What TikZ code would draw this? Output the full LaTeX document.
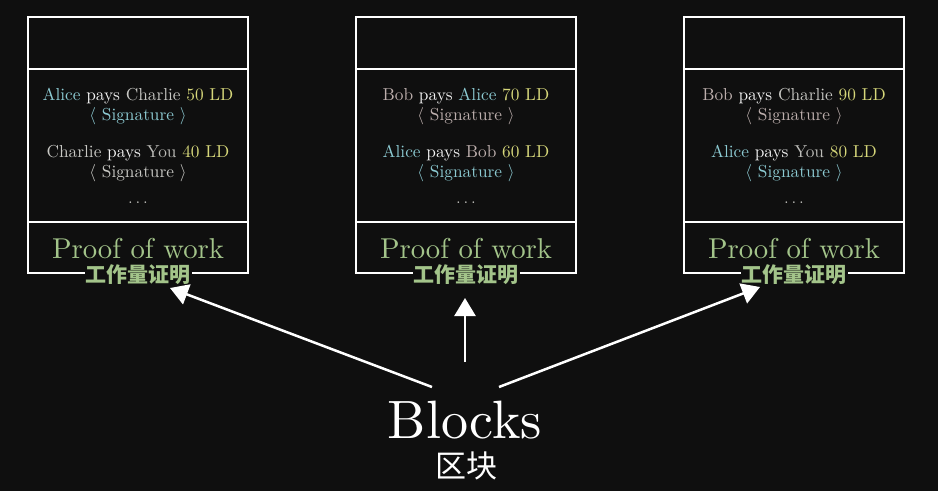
\documentclass[tikz,border=0pt]{standalone}
\usepackage{fontspec}
\setmainfont{lmroman10-regular}[Extension=.otf,BoldFont=lmroman10-bold,ItalicFont=lmroman10-italic]
\newfontfamily\cjk{Noto Sans CJK SC}
\usetikzlibrary{arrows.meta}
\definecolor{bgblack}{HTML}{0F0F0F}
\definecolor{cAlice}{HTML}{8CCAD2}
\definecolor{cBob}{HTML}{BDAFAD}
\definecolor{cCharlie}{HTML}{C8C8C4}
\definecolor{cYou}{HTML}{BCBCB8}
\definecolor{payw}{HTML}{F2F2F2}
\definecolor{amt}{HTML}{D6D77A}
\definecolor{powgreen}{HTML}{A3C48A}

\begin{document}
\begin{tikzpicture}[
	x=1pt,y=-1pt,
	bframe/.style={draw=white,line width=1.9pt},
	txt/.style={font=\fontsize{17.3}{20}\selectfont,anchor=base,inner sep=0pt},
	pow/.style={font=\fontsize{28.7}{32}\selectfont,text=powgreen,anchor=base,inner sep=0pt},
	powzh/.style={font=\cjk\bfseries\fontsize{21}{24}\selectfont,text=powgreen,fill=bgblack,inner xsep=1pt,inner ysep=1pt},
	harrow/.style={draw=white,line width=2.5pt,-{Triangle[length=18pt,width=21pt]}}
	]
	\fill[bgblack] (0,0) rectangle (938,491);
	\foreach \b/\cx/\pa/\qa/\va/\pb/\qb/\vb in {1/138/Alice/Charlie/50/Charlie/You/40,2/466/Bob/Alice/70/Alice/Bob/60,3/794/Bob/Charlie/90/Alice/You/80}{
		\draw[bframe] (\cx-110,17) rectangle (\cx+110,273);
		\draw[bframe] (\cx-110,69) -- (\cx+110,69);
		\draw[bframe] (\cx-110,222) -- (\cx+110,222);
		\node[txt] (tx\b a) at (\cx,100) {\textcolor{c\pa}{\pa} \textcolor{payw}{pays} \textcolor{c\qa}{\qa} \textcolor{amt}{\va~LD}};
		\node[txt,text=c\pa] (sg\b a) at (\cx,120) {$\langle$ Signature $\rangle$};
		\node[txt] (tx\b b) at (\cx,157) {\textcolor{c\pb}{\pb} \textcolor{payw}{pays} \textcolor{c\qb}{\qb} \textcolor{amt}{\vb~LD}};
		\node[txt,text=c\pb] (sg\b b) at (\cx,177) {$\langle$ Signature $\rangle$};
		\node[txt,text=cCharlie] (dt\b) at (\cx,203) {$\ldots$};
		\node[pow] (pw\b) at (\cx,258) {Proof of work};
		\node[powzh] (zh\b) at (\cx,275) {工作量证明};
	}
	\node[font=\fontsize{54}{58}\selectfont,text=white,anchor=base,inner sep=0pt] (blk) at (465,438) {Blocks};
	\node[font=\cjk\fontsize{31}{34}\selectfont,text=white] (blkzh) at (466,466) {区块};
	\coordinate (s1) at (432,387);
	\coordinate (s2) at (465,362);
	\coordinate (s3) at (499,387);
	\coordinate (t1) at (170,288);
	\coordinate (t2) at (465,298);
	\coordinate (t3) at (760,287);
	\draw[harrow] (s1) -- (t1);
	\draw[harrow] (s2) -- (t2);
	\draw[harrow] (s3) -- (t3);
\end{tikzpicture}
\end{document}
